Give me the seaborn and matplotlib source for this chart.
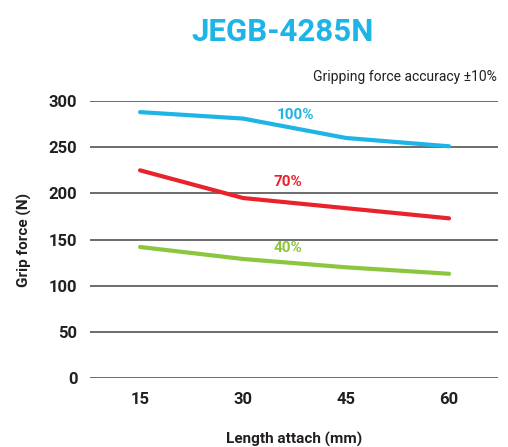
import matplotlib
matplotlib.use("Agg")
import matplotlib.pyplot as plt
import seaborn as sns
import pandas as pd

# values
length = [15, 30, 45, 60]
force_100 = [288, 281, 260, 251]
force_70 = [225, 195, 184, 173]
force_40 = [142, 129, 120, 113]
series_names = ['100%', '70%', '40%']
colors = ['#1fb4e6', '#e8232b', '#8cc63f']

df = pd.DataFrame({
    'Length': length * 3,
    'Force': force_100 + force_70 + force_40,
    'Level': [s for s in series_names for _ in length],
})

sns.set_style('white')
plt.rcParams['font.family'] = ['Roboto', 'DejaVu Sans']

fig = plt.figure(figsize=(5.08, 4.47), dpi=100)
ax = fig.add_axes([0.177, 0.154, 0.803, 0.620])

sns.lineplot(data=df, x='Length', y='Force', hue='Level', palette=colors,
             hue_order=series_names, linewidth=3, legend=False, ax=ax)

ax.set_xlim(7.7, 67.1)
ax.set_ylim(0, 300)
ax.set_yticks(range(0, 301, 50))
ax.set_xticks(length)
ax.yaxis.grid(True, color='#444444', linewidth=1.1)
ax.set_axisbelow(True)
for s in ax.spines.values():
    s.set_visible(False)
ax.tick_params(axis='both', length=0, labelsize=12, labelcolor='#231f20')
ax.tick_params(axis='y', pad=9)
ax.tick_params(axis='x', pad=10)
for lab in ax.get_xticklabels() + ax.get_yticklabels():
    lab.set_fontweight('bold')

ax.set_xlabel('Length attach (mm)', fontsize=11, fontweight='bold', color='#231f20', labelpad=18)
ax.set_ylabel('Grip force (N)', fontsize=11, fontweight='bold', color='#231f20', labelpad=12)

# series labels
ax.text(37.6, 285, '100%', color=colors[0], fontsize=11, fontweight='bold', ha='center', va='center')
ax.text(36.5, 212, '70%', color=colors[1], fontsize=11, fontweight='bold', ha='center', va='center')
ax.text(36.5, 141, '40%', color=colors[2], fontsize=11, fontweight='bold', ha='center', va='center')

fig.text(0.557, 0.928, 'JEGB-4285N', color='#1fb4e6', fontsize=22.5, fontweight='bold', ha='center', va='center')
fig.text(0.978, 0.828, 'Gripping force accuracy ±10%', color='#231f20', fontsize=10, ha='right', va='center')

fig.savefig('out.png', dpi=100)
